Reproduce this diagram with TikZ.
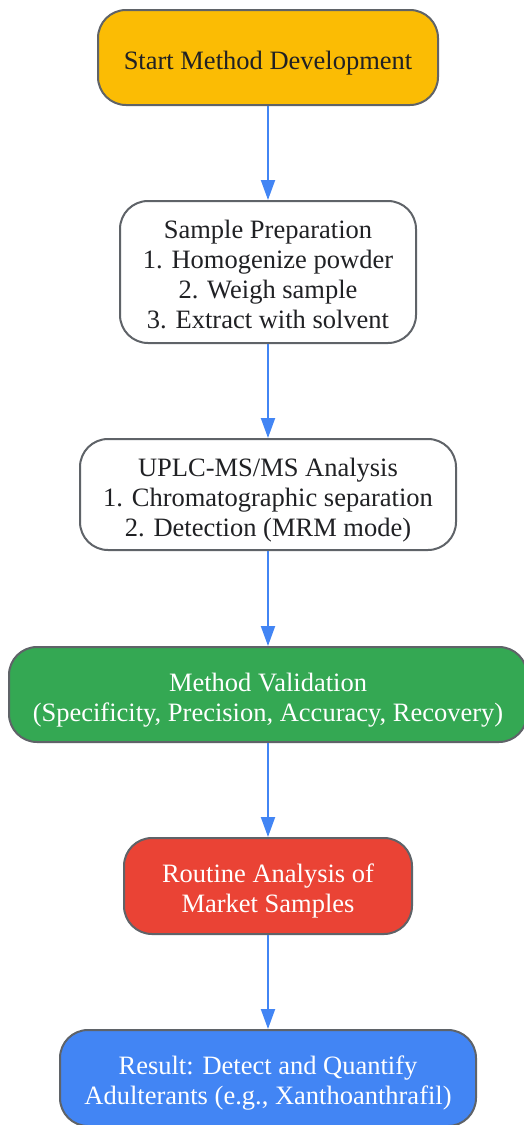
\documentclass[tikz,border=0pt]{standalone}
\usepackage{fontspec}
\setmainfont{Liberation Serif}
\usetikzlibrary{arrows.meta}
\definecolor{bordergray}{RGB}{95,99,104}
\definecolor{gorange}{HTML}{FBBC04}
\definecolor{ggreen}{HTML}{34A853}
\definecolor{gred}{HTML}{EA4335}
\definecolor{gblue}{HTML}{4285F4}
\definecolor{darktext}{HTML}{202124}
\newcommand{\boxtext}[1]{\begin{tabular}{@{}c@{}}\rule{0pt}{32pt}#1\end{tabular}}
\tikzset{
  box/.style={draw=bordergray, line width=2pt, rounded corners=28pt, align=center,
    inner sep=0pt, font=\fontsize{26.5pt}{30pt}\selectfont, text=darktext},
  flow/.style={draw=gblue, line width=2pt, -{Triangle[width=14pt,length=20pt]}}
}
\begin{document}
\begin{tikzpicture}[x=1pt,y=1pt]
\useasboundingbox (0,0) rectangle (523,-1125);
\node[box, fill=gorange, minimum width=340pt, minimum height=95pt] (n1) at (268,-57.5) {\boxtext{Start Method Development}};
\node[box, fill=white, minimum width=296pt, minimum height=142pt] (n2) at (268,-272) {\boxtext{Sample Preparation\\1. Homogenize powder\\2. Weigh sample\\3. Extract with solvent}};
\node[box, fill=white, minimum width=376pt, minimum height=111pt] (n3) at (268,-494.5) {\boxtext{UPLC-MS/MS Analysis\\1. Chromatographic separation\\2. Detection (MRM mode)}};
\node[box, fill=ggreen, text=white, minimum width=518pt, minimum height=95pt] (n4) at (268,-694.5) {\boxtext{Method Validation\\(Specificity, Precision, Accuracy, Recovery)}};
\node[box, fill=gred, text=white, minimum width=288pt, minimum height=96pt] (n5) at (268,-886) {\boxtext{Routine Analysis of\\Market Samples}};
\node[box, fill=gblue, text=white, minimum width=416pt, minimum height=96pt] (n6) at (268,-1078) {\boxtext{Result: Detect and Quantify\\Adulterants (e.g., Xanthoanthrafil)}};
\draw[flow] (n1) -- (n2);
\draw[flow] (n2) -- (n3);
\draw[flow] (n3) -- (n4);
\draw[flow] (n4) -- (n5);
\draw[flow] (n5) -- (n6);
\end{tikzpicture}
\end{document}
